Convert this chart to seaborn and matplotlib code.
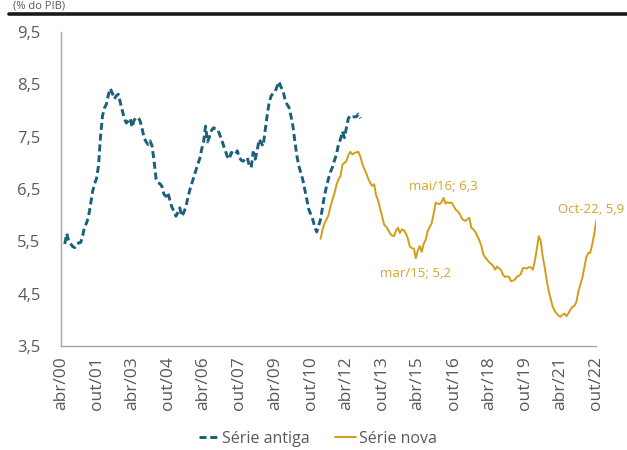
import matplotlib
matplotlib.use("Agg")
from matplotlib import pyplot as plt
from matplotlib.lines import Line2D
import numpy as np
import pandas as pd
import seaborn as sb

# Série antiga: monthly, jun/2000 .. nov/2012
old_start = "2000-06-01"
old_values = [
    5.45, 5.65, 5.50, 5.45, 5.40, 5.38, 5.45, 5.47, 5.48, 5.60,
    5.78, 5.85, 5.98, 6.20, 6.45, 6.60, 6.70, 6.95, 7.50, 7.90,
    8.05, 8.12, 8.30, 8.42, 8.33, 8.22, 8.28, 8.31, 8.15, 8.00,
    7.85, 7.76, 7.80, 7.85, 7.68, 7.82, 7.85, 7.87, 7.80, 7.65,
    7.48, 7.40, 7.35, 7.42, 7.32, 7.05, 6.70, 6.62, 6.60, 6.55,
    6.40, 6.36, 6.43, 6.28, 6.15, 6.08, 5.98, 6.05, 6.14, 5.98,
    6.05, 6.15, 6.32, 6.48, 6.60, 6.72, 6.85, 6.97, 7.08, 7.25,
    7.40, 7.70, 7.40, 7.50, 7.62, 7.67, 7.65, 7.64, 7.55, 7.45,
    7.33, 7.23, 7.12, 7.07, 7.20, 7.18, 7.16, 7.23, 7.10, 7.05,
    7.03, 7.08, 7.10, 6.95, 6.91, 7.20, 7.07, 7.23, 7.45, 7.38,
    7.32, 7.61, 7.90, 8.15, 8.28, 8.32, 8.36, 8.45, 8.55, 8.45,
    8.38, 8.22, 8.12, 8.06, 7.90, 7.70, 7.40, 7.15, 6.94, 6.82,
    6.68, 6.50, 6.30, 6.11, 6.02, 5.92, 5.78, 5.68, 5.80, 5.92,
    6.15, 6.38, 6.55, 6.70, 6.83, 6.92, 7.05, 7.16, 7.35, 7.45,
    7.60, 7.48, 7.67, 7.85, 7.90, 7.87, 7.88, 7.88, 7.93, 7.85,
]

# Série nova: monthly, mar/2011 .. out/2022
new_start = "2011-03-01"
new_values = [
    5.55, 5.72, 5.85, 5.92, 6.00, 6.17, 6.30, 6.42, 6.58, 6.68,
    6.75, 6.97, 7.00, 7.03, 7.15, 7.21, 7.16, 7.19, 7.20, 7.21,
    7.12, 6.98, 6.88, 6.80, 6.70, 6.62, 6.56, 6.59, 6.38, 6.28,
    6.12, 5.98, 5.82, 5.78, 5.72, 5.65, 5.61, 5.60, 5.70, 5.76,
    5.66, 5.73, 5.71, 5.65, 5.55, 5.40, 5.37, 5.36, 5.18, 5.32,
    5.41, 5.30, 5.45, 5.53, 5.70, 5.77, 5.85, 6.03, 6.24, 6.22,
    6.21, 6.25, 6.33, 6.22, 6.25, 6.23, 6.24, 6.18, 6.11, 6.08,
    6.03, 5.95, 5.91, 5.89, 5.92, 5.95, 5.76, 5.73, 5.68, 5.60,
    5.52, 5.42, 5.25, 5.19, 5.15, 5.10, 5.07, 5.03, 4.96, 5.02,
    4.98, 4.95, 4.86, 4.82, 4.83, 4.82, 4.74, 4.75, 4.77, 4.83,
    4.84, 4.88, 4.99, 4.99, 4.98, 5.01, 5.00, 4.96, 5.12, 5.35,
    5.60, 5.50, 5.21, 5.00, 4.75, 4.55, 4.40, 4.25, 4.17, 4.12,
    4.08, 4.06, 4.10, 4.12, 4.07, 4.13, 4.20, 4.25, 4.27, 4.35,
    4.55, 4.68, 4.80, 5.00, 5.20, 5.28, 5.28, 5.45, 5.65, 5.90,
]

tick_labels = ["abr/00", "out/01", "abr/03", "out/04", "abr/06", "out/07",
               "abr/09", "out/10", "abr/12", "out/13", "abr/15", "out/16",
               "abr/18", "out/19", "abr/21", "out/22"]
y_ticks = [3.5, 4.5, 5.5, 6.5, 7.5, 8.5, 9.5]

# annotations: (date, value, text)
notes = [("2016-05-01", 6.3, "mai/16; 6,3"),
         ("2015-03-01", 5.2, "mar/15; 5,2"),
         ("2022-10-01", 5.9, "Oct-22, 5,9")]

old_color = "#1A5F7C"
new_color = "#D39D1A"
text_color = "#595959"
axis_color = "#A6A6A6"

df_old = pd.DataFrame({"Data": pd.date_range(old_start, periods=len(old_values), freq="MS"),
                       "Valor": old_values})
df_new = pd.DataFrame({"Data": pd.date_range(new_start, periods=len(new_values), freq="MS"),
                       "Valor": new_values})

sb.set_theme(style="white")
plt.rcParams["font.family"] = ["Open Sans", "DejaVu Sans"]

fig = plt.figure(figsize=(6.27, 4.5), dpi=100)
ax = fig.add_axes([0.097, 0.231, 0.854, 0.698])

sb.lineplot(data=df_old, x="Data", y="Valor", ax=ax, color=old_color,
            linewidth=2.1, label="Série antiga")
ax.lines[-1].set_dashes((2.4, 1.3))
sb.lineplot(data=df_new, x="Data", y="Valor", ax=ax, color=new_color,
            linewidth=1.4, label="Série nova")

tick_pos = pd.date_range("2000-04-01", periods=len(tick_labels), freq="18MS")
ax.set_xticks(tick_pos)
ax.set_xticklabels(tick_labels, rotation=90, fontsize=12.5, color=text_color)
ax.set_xlim(pd.Timestamp("2000-04-01"), pd.Timestamp("2022-10-01"))

ax.set_ylim(3.5, 9.5)
ax.set_yticks(y_ticks)
ax.set_yticklabels([f"{v:.1f}".replace(".", ",") for v in y_ticks],
                   fontsize=12, color=text_color)
ax.set_xlabel("")
ax.set_ylabel("")

for side in ["top", "right"]:
    ax.spines[side].set_visible(False)
for side in ["left", "bottom"]:
    ax.spines[side].set_color(axis_color)
    ax.spines[side].set_linewidth(1.0)
ax.tick_params(axis="both", direction="out", length=4.5, width=1.0,
               color=axis_color, pad=3)
ax.tick_params(axis="y", pad=10)

offsets = {"mai/16; 6,3": (0, 9), "mar/15; 5,2": (0, -12), "Oct-22, 5,9": (-4, 8)}
for d, v, txt in notes:
    ax.annotate(txt, (pd.Timestamp(d), v), xytext=offsets[txt], textcoords="offset points",
                ha="center", va="center", fontsize=9.5, color="#D4A52A")

ax.legend(loc="center", bbox_to_anchor=(0.48, -0.295), ncol=2, frameon=False,
          fontsize=11.5, handlelength=1.3, handletextpad=0.15, columnspacing=1.6,
          labelcolor=text_color)

# header rule and unit caption
fig.add_artist(Line2D([0.015, 1.0], [0.968, 0.968], color="#1a1a1a", lw=2.6))
fig.text(0.02, 0.999, "(% do PIB)", fontsize=8, color=text_color, va="top")

fig.savefig("out.png", dpi=100)
